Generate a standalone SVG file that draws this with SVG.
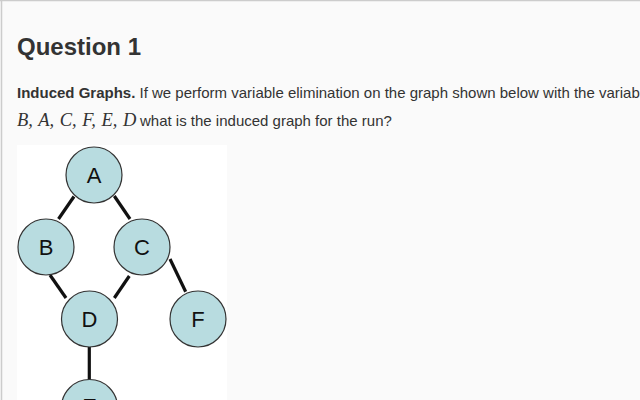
<svg xmlns="http://www.w3.org/2000/svg" width="640" height="400" viewBox="0 0 640 400">
<style>
  .node circle { fill: #b8dce0; stroke: #333; stroke-width: 1.2; }
  .node text { font-family: "Liberation Sans", Arial, sans-serif; font-size: 22px; fill: #111; text-anchor: middle; }
  .edges line { stroke: #111; stroke-width: 3.2; }
  .body { font-family: "Liberation Sans", Arial, sans-serif; font-size: 15px; fill: #333; }
  .math { font-family: "Liberation Serif", "Times New Roman", serif; font-style: italic; font-size: 18.5px; fill: #333; word-spacing: 1px; }
</style>
<rect x="0" y="0" width="640" height="400" fill="#fafafa"/>
<line x1="0" y1="0.5" x2="640" y2="0.5" stroke="#cccccc" stroke-width="1.5"/>
<line x1="1.5" y1="0" x2="1.5" y2="400" stroke="#cccccc" stroke-width="1.5"/>
<text x="17" y="55" font-family="Liberation Sans, Arial, sans-serif" font-size="24" font-weight="bold" fill="#333">Question 1</text>
<text class="body" x="17" y="98"><tspan font-weight="bold">Induced Graphs.</tspan> If we perform variable elimination on the graph shown below with the variab</text>
<text class="math" x="17" y="126">B, A, C, F, E, D</text>
<text class="body" x="140" y="126">what is the induced graph for the run?</text>
<rect x="17" y="145" width="210" height="255" fill="#ffffff"/>
<g class="edges">
  <line x1="74" y1="196.5" x2="58.5" y2="219"/>
  <line x1="114.3" y1="196" x2="130" y2="219"/>
  <line x1="50" y1="275" x2="66" y2="298"/>
  <line x1="129.3" y1="276" x2="114.3" y2="298"/>
  <line x1="170" y1="259" x2="185.7" y2="291.7"/>
  <line x1="89.3" y1="346.7" x2="89.3" y2="380"/>
</g>
<g id="node-A" class="node"><circle cx="94" cy="175" r="28"/><text x="94" y="183">A</text></g>
<g id="node-B" class="node"><circle cx="46" cy="247" r="28"/><text x="46" y="255">B</text></g>
<g id="node-C" class="node"><circle cx="142" cy="247" r="28"/><text x="142" y="255">C</text></g>
<g id="node-D" class="node"><circle cx="89.5" cy="319" r="28"/><text x="89.5" y="327">D</text></g>
<g id="node-F" class="node"><circle cx="198" cy="319" r="28"/><text x="198" y="327">F</text></g>
<g id="node-E" class="node"><circle cx="89.5" cy="407.5" r="28"/><text x="89.5" y="414">E</text></g>
</svg>
